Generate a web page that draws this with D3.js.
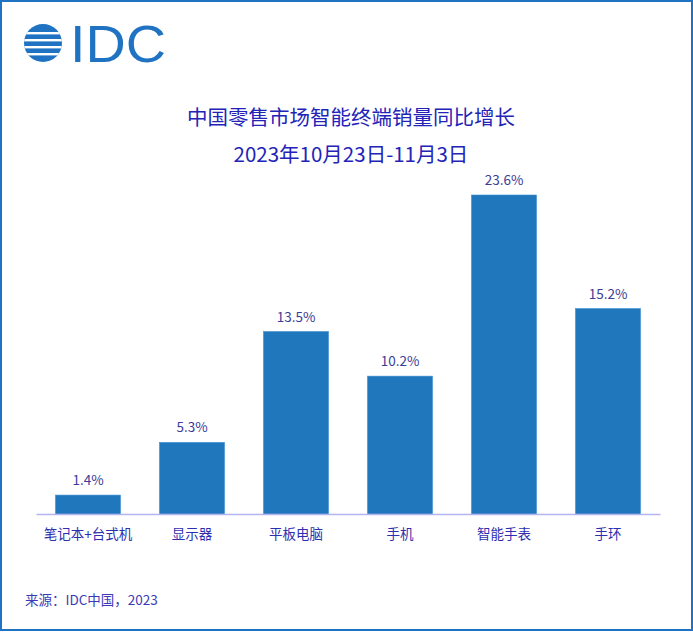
<!DOCTYPE html>
<html><head><meta charset="utf-8">
<script src="https://cdn.jsdelivr.net/npm/d3@7"></script>
<style>body{margin:0;background:#fff}svg{display:block}</style>
</head><body>
<script>
const categories = ["笔记本+台式机","显示器","平板电脑","手机","智能手表","手环"];
const values = [1.4, 5.3, 13.5, 10.2, 23.6, 15.2];
const titleLines = ["中国零售市场智能终端销量同比增长","2023年10月23日-11月3日"];
const source = "来源：IDC中国，2023";

const W = 693, H = 632;
const font = "'Noto Sans CJK SC','Microsoft YaHei',sans-serif";
const svg = d3.select("body").append("svg").attr("width", W).attr("height", H);

svg.append("rect").attr("x",1).attr("y",1).attr("width",W-2).attr("height",H-3)
  .attr("fill","#fff").attr("stroke","#1f73c2").attr("stroke-width",2);

// logo
const lg = svg.append("g");
const cx = 43, cy = 43, r = 19;
lg.append("clipPath").attr("id","globe").append("circle").attr("cx",cx).attr("cy",cy).attr("r",r);
const gg = lg.append("g").attr("clip-path","url(#globe)");
gg.append("rect").attr("x",cx-r).attr("y",cy-r).attr("width",2*r).attr("height",2*r).attr("fill","#1f73c2");
[-11,-4,3,10].forEach((d,i)=>{
  gg.append("rect").attr("x",cx-r).attr("y",cy+d).attr("width",2*r).attr("height",2.4).attr("fill","#fff");
});
lg.append("text").attr("x",70).attr("y",62).attr("font-family","'Liberation Sans',Arial,sans-serif")
  .attr("font-size",52).attr("fill","#1f73c2").attr("textLength",96).attr("lengthAdjust","spacingAndGlyphs").text("IDC");

svg.selectAll(".title").data(titleLines).join("text")
  .attr("x",351).attr("y",(d,i)=>125+i*37).attr("text-anchor","middle")
  .attr("font-family",font).attr("font-size",20.5).attr("fill","#2323b8").text(d=>d);

const x = d3.scaleBand().domain(categories).range([36,660]).paddingInner(0.375).paddingOuter(0.1875);
const y = d3.scaleLinear().domain([0,23.6]).range([514,195]);

svg.selectAll(".bar").data(values).join("rect")
  .attr("x",(d,i)=>x(categories[i])).attr("y",d=>y(d))
  .attr("width",x.bandwidth()).attr("height",d=>y(0)-y(d))
  .attr("fill","#2177bb").attr("stroke","#3f8fd0").attr("stroke-width",0.6);

svg.selectAll(".val").data(values).join("text")
  .attr("x",(d,i)=>x(categories[i])+x.bandwidth()/2).attr("y",d=>y(d)-10)
  .attr("text-anchor","middle").attr("font-family",font).attr("font-size",13.5)
  .attr("fill","#3c3c96").text(d=>d.toFixed(1)+"%");

const axis = svg.append("g").attr("transform","translate(0,514)")
  .call(d3.axisBottom(x).tickSize(0).tickPadding(15));
axis.select(".domain").attr("stroke","#b4b4f0").attr("stroke-width",1.5);
axis.selectAll("text").attr("font-family",font).attr("font-size",13.5).attr("fill","#2e2eb0");

svg.append("text").attr("x",25).attr("y",605).attr("font-family",font).attr("font-size",13.5)
  .attr("fill","#3a3ab8").text(source);
</script>
</body></html>
